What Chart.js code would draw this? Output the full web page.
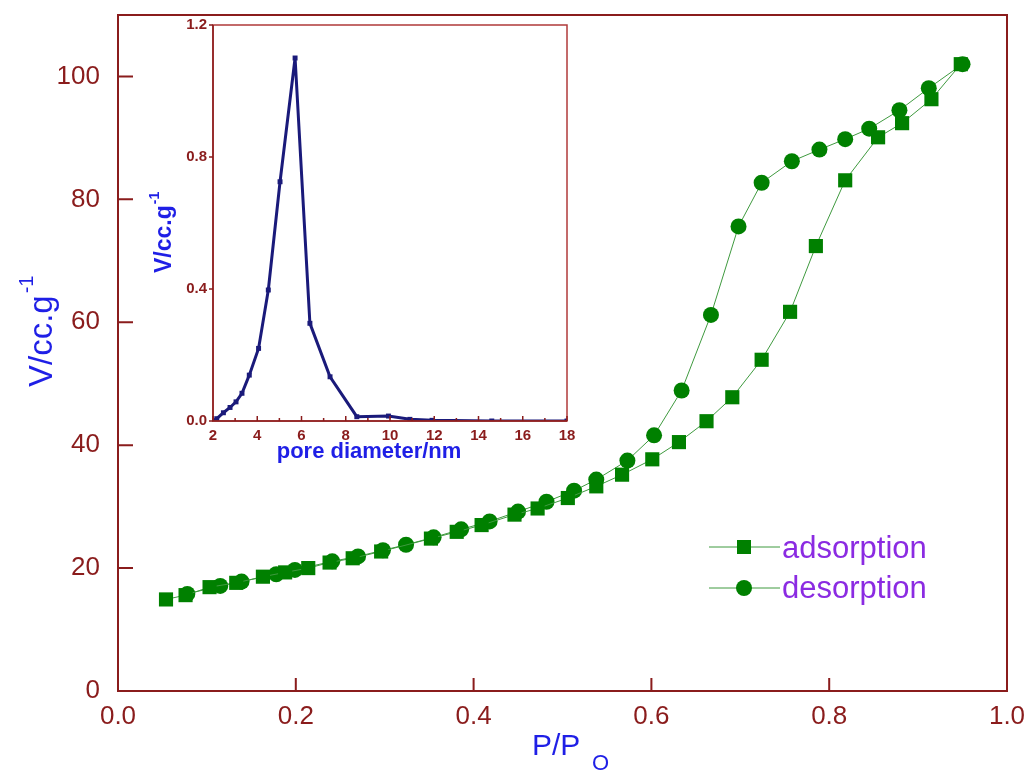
<!DOCTYPE html>
<html><head><meta charset="utf-8">
<script src="https://cdn.jsdelivr.net/npm/chart.js@4.4.1/dist/chart.umd.min.js"></script>
<style>
html,body{margin:0;padding:0;background:#fff;}
#wrap{position:relative;width:1032px;height:771px;overflow:hidden;}
#main{position:absolute;left:0;top:0;}
#inset{position:absolute;left:140px;top:10px;}
</style></head><body>
<div id="wrap"><canvas id="main" width="1032" height="771"></canvas><canvas id="inset" width="440" height="460"></canvas></div>
<script>
// ---- main isotherm data (P/P0, V cc/g) ----
const adsorptionP = [0.054,0.076,0.103,0.133,0.163,0.188,0.214,0.238,0.264,0.296,0.352,0.381,0.409,0.446,0.472,0.506,0.538,0.567,0.601,0.631,0.662,0.691,0.724,0.756,0.785,0.818,0.855,0.882,0.915,0.948];
const adsorptionV = [14.9,15.6,16.9,17.6,18.6,19.3,20.0,20.9,21.6,22.7,24.8,25.9,27.0,28.7,29.7,31.4,33.3,35.2,37.7,40.5,43.9,47.8,53.9,61.7,72.4,83.1,90.1,92.4,96.3,102.0];
const desorptionP = [0.950,0.912,0.879,0.845,0.818,0.789,0.758,0.724,0.698,0.667,0.634,0.603,0.573,0.538,0.513,0.482,0.450,0.418,0.386,0.355,0.324,0.298,0.270,0.241,0.199,0.178,0.139,0.115,0.078];
const desorptionV = [102.0,98.1,94.5,91.5,89.8,88.1,86.2,82.7,75.6,61.2,48.9,41.6,37.5,34.4,32.6,30.8,29.2,27.6,26.3,25.0,23.8,22.9,21.9,21.1,19.7,19.0,17.8,17.1,15.8];
const xTickValues = [0,0.2,0.4,0.6,0.8,1.0];
const yTickValues = [0,20,40,60,80,100];
// ---- inset pore size distribution ----
const poreDiameter = [2.0,2.17,2.47,2.77,3.04,3.31,3.64,4.06,4.5,5.03,5.71,6.38,7.29,8.5,9.93,10.9,11.9,14.6,18.0];
const poreVolume   = [0.0,0.007,0.025,0.041,0.058,0.084,0.139,0.22,0.397,0.725,1.10,0.296,0.134,0.013,0.015,0.005,0.002,0.0,0.0];
const insetXTicks = [2,4,6,8,10,12,14,16,18];
const insetYTicks = [0,0.4,0.8,1.2];

const MAROON = '#8a1c1c';
const GREEN = '#008000';
const BLUE = '#1f1fe6';
const FONT = "'Liberation Sans', Arial, sans-serif";

function pts(xs, ys){ return xs.map((v,i)=>({x:v, y:ys[i]})); }
function noPadX(s){ s.paddingLeft = 0; s.paddingRight = 0; }
function noPadY(s){ s.paddingTop = 0; s.paddingBottom = 0; }

const mainDecor = {
  id:'mainDecor',
  afterDraw(chart){
    const {ctx, chartArea:a, scales:{x,y}} = chart;
    ctx.save();
    ctx.strokeStyle = MAROON; ctx.lineWidth = 2;
    ctx.strokeRect(a.left, a.top, a.right-a.left, a.bottom-a.top);
    ctx.beginPath();
    x.ticks.forEach(t=>{const p=x.getPixelForValue(t.value); ctx.moveTo(p,a.bottom); ctx.lineTo(p,a.bottom-13);});
    y.ticks.forEach(t=>{const p=y.getPixelForValue(t.value); ctx.moveTo(a.left,p); ctx.lineTo(a.left+15,p);});
    ctx.stroke();
    // axis titles
    ctx.fillStyle = BLUE; ctx.textBaseline='alphabetic'; ctx.textAlign='left';
    ctx.font = '30px '+FONT;
    ctx.fillText('P/P', 532, 755);
    ctx.font = '22px '+FONT;
    ctx.fillText('O', 592, 770);
    ctx.save();
    ctx.translate(52, 387); ctx.rotate(-Math.PI/2);
    ctx.font = '33px '+FONT;
    ctx.fillText('V/cc.g', 0, 0);
    const w = ctx.measureText('V/cc.g').width;
    ctx.font = '20px '+FONT;
    ctx.fillText('-1', w+2, -19);
    ctx.restore();
    // legend
    const items = [{label:'adsorption', style:'rect', y:547, base:558},{label:'desorption', style:'circle', y:588, base:598}];
    items.forEach(it=>{
      ctx.strokeStyle = '#3f9a3f'; ctx.lineWidth = 1;
      ctx.beginPath(); ctx.moveTo(709, it.y); ctx.lineTo(780, it.y); ctx.stroke();
      ctx.fillStyle = GREEN;
      if(it.style==='rect'){ ctx.fillRect(737, it.y-7, 14, 14); }
      else { ctx.beginPath(); ctx.arc(744, it.y, 8, 0, Math.PI*2); ctx.fill(); }
      ctx.fillStyle = '#8b2be2'; ctx.font = '31px '+FONT;
      ctx.fillText(it.label, 782, it.base);
    });
    ctx.restore();
  }
};

new Chart(document.getElementById('main'), {
  type:'scatter',
  data:{datasets:[
    {label:'adsorption', data:pts(adsorptionP, adsorptionV), showLine:true, borderColor:'#3f9a3f', borderWidth:1,
     pointStyle:'rect', pointRadius:10, pointBackgroundColor:GREEN, pointBorderColor:GREEN, pointBorderWidth:0},
    {label:'desorption', data:pts(desorptionP, desorptionV), showLine:true, borderColor:'#3f9a3f', borderWidth:1,
     pointStyle:'circle', pointRadius:8, pointBackgroundColor:GREEN, pointBorderColor:GREEN, pointBorderWidth:0}
  ]},
  options:{
    responsive:false, animation:false, devicePixelRatio:1,
    layout:{padding:{left:0,right:25,top:15,bottom:0}},
    plugins:{legend:{display:false}, tooltip:{enabled:false}},
    scales:{
      x:{type:'linear', min:0, max:1,
        afterBuildTicks:s=>{s.ticks = xTickValues.map(v=>({value:v}));},
        afterFit:s=>{s.height = 80; noPadX(s);},
        grid:{display:false, drawTicks:false}, border:{display:false},
        ticks:{color:MAROON, font:{family:FONT, size:26}, padding:10, callback:v=>Number(v).toFixed(1), maxRotation:0}},
      y:{type:'linear', min:0, max:110,
        afterBuildTicks:s=>{s.ticks = yTickValues.map(v=>({value:v}));},
        afterFit:s=>{s.width = 118; noPadY(s);},
        grid:{display:false, drawTicks:false}, border:{display:false},
        ticks:{color:MAROON, font:{family:FONT, size:26}, padding:18}}
    }
  },
  plugins:[mainDecor]
});

const insetDecor = {
  id:'insetDecor',
  afterDraw(chart){
    const {ctx, chartArea:a, scales:{x,y}} = chart;
    ctx.save();
    ctx.strokeStyle = '#b03a3a'; ctx.lineWidth = 1.5;
    ctx.strokeRect(a.left, a.top, a.right-a.left, a.bottom-a.top);
    ctx.strokeStyle = MAROON; ctx.lineWidth = 1.5;
    ctx.beginPath(); ctx.moveTo(a.left,a.top); ctx.lineTo(a.left,a.bottom); ctx.lineTo(a.right,a.bottom); ctx.stroke();
    ctx.beginPath();
    x.ticks.forEach(t=>{const p=x.getPixelForValue(t.value); ctx.moveTo(p,a.bottom); ctx.lineTo(p,a.bottom-5);
      if(t.value<18){const m=x.getPixelForValue(t.value+1); ctx.moveTo(m,a.bottom); ctx.lineTo(m,a.bottom-3);} });
    y.ticks.forEach(t=>{const p=y.getPixelForValue(t.value); ctx.moveTo(a.left,p); ctx.lineTo(a.left-4,p);});
    ctx.stroke();
    ctx.fillStyle = BLUE; ctx.textAlign='center'; ctx.textBaseline='alphabetic';
    ctx.font = 'bold 22px '+FONT;
    ctx.fillText('pore diameter/nm', 229, 448);
    ctx.save();
    ctx.translate(31, 263); ctx.rotate(-Math.PI/2);
    ctx.textAlign='left';
    ctx.font = 'bold 23px '+FONT;
    ctx.fillText('V/cc.g', 0, 0);
    const w = ctx.measureText('V/cc.g').width;
    ctx.font = 'bold 14px '+FONT;
    ctx.fillText('-1', w+1, -12);
    ctx.restore();
    ctx.restore();
  }
};

new Chart(document.getElementById('inset'), {
  type:'scatter',
  data:{datasets:[
    {label:'pore', data:pts(poreDiameter, poreVolume), showLine:true, borderColor:'#1a1a7a', borderWidth:3,
     pointStyle:'rect', pointRadius:3.5, pointBackgroundColor:'#1a1a7a', pointBorderColor:'#1a1a7a', pointBorderWidth:0}
  ]},
  options:{
    responsive:false, animation:false, devicePixelRatio:1,
    layout:{padding:{left:0,right:13,top:15,bottom:0}},
    plugins:{legend:{display:false}, tooltip:{enabled:false}},
    scales:{
      x:{type:'linear', min:2, max:18,
        afterBuildTicks:s=>{s.ticks = insetXTicks.map(v=>({value:v}));},
        afterFit:s=>{s.height = 49; noPadX(s);},
        grid:{display:false, drawTicks:false}, border:{display:false},
        ticks:{color:MAROON, font:{family:FONT, size:15, weight:'bold'}, padding:6, maxRotation:0}},
      y:{type:'linear', min:0, max:1.2,
        afterBuildTicks:s=>{s.ticks = insetYTicks.map(v=>({value:v}));},
        afterFit:s=>{s.width = 73; noPadY(s);},
        grid:{display:false, drawTicks:false}, border:{display:false},
        ticks:{color:MAROON, font:{family:FONT, size:15, weight:'bold'}, padding:6, callback:v=>Number(v).toFixed(1)}}
    }
  },
  plugins:[insetDecor]
});
</script>
</body></html>
